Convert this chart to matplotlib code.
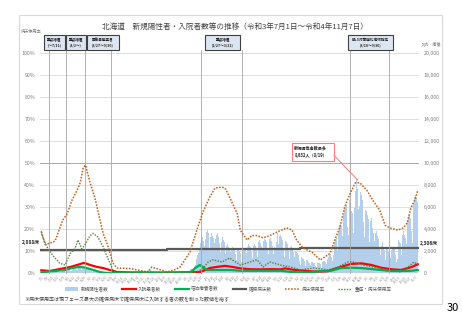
import pandas as pd
import matplotlib
matplotlib.use("Agg")
import matplotlib.pyplot as plt
from matplotlib.patches import Rectangle, Patch
from matplotlib.lines import Line2D

plt.rcParams['font.family'] = ['Noto Sans CJK JP', 'DejaVu Sans']

START = pd.Timestamp('2021-07-01')

# daily new positives, one list per month
cases_2107 = [40, 33, 30, 28, 13, 29, 35, 37, 31, 27, 24, 18, 40, 45, 51, 60, 55, 48, 30, 58,
              77, 70, 81, 66, 57, 118, 130, 145, 171, 176, 150]
cases_2108 = [125, 110, 183, 220, 241, 255, 248, 210, 180, 195, 300, 336, 364, 355, 321, 245,
              318, 399, 413, 425, 430, 345, 290, 410, 486, 569, 531, 470, 370, 268, 392]
cases_2109 = [333, 298, 270, 215, 165, 99, 180, 170, 145, 132, 112, 84, 50, 98, 85, 72, 60, 48,
              40, 28, 20, 38, 34, 30, 25, 22, 12, 20, 24, 19]
cases_2110 = [18, 14, 10, 7, 12, 15, 11, 12, 9, 6, 4, 10, 8, 13, 9, 7, 5, 3, 8, 10, 6, 9, 7, 2,
              3, 5, 8, 4, 6, 7, 3]
cases_2111 = [2, 5, 3, 4, 8, 6, 3, 4, 10, 9, 7, 12, 11, 6, 4, 13, 15, 9, 7, 10, 5, 8, 6, 11, 9,
              8, 5, 4, 3, 7]
cases_2112 = [6, 4, 5, 3, 2, 4, 6, 8, 5, 3, 7, 4, 2, 5, 6, 4, 3, 5, 4, 3, 6, 8, 10, 12, 9, 7,
              11, 15, 19, 14, 20]
cases_2201 = [17, 19, 22, 35, 55, 60, 79, 112, 127, 95, 119, 206, 328, 383, 394, 397, 380, 642,
              749, 998, 1240, 1600, 1800, 1500, 2200, 2700, 3000, 3300, 3400, 2900, 2500]
cases_2202 = [3100, 3400, 3700, 3900, 3600, 3000, 2200, 3300, 3600, 3800, 3400, 3200, 2700, 2000,
              3100, 3500, 3600, 3300, 3100, 2700, 1900, 2800, 3200, 3300, 3000, 2800, 2400, 1700]
cases_2203 = [2500, 2600, 2500, 2400, 2200, 1900, 1300, 2200, 2400, 2300, 2200, 2000, 1700, 1200,
              2100, 2300, 2200, 2000, 1800, 1500, 1000, 1500, 2300, 2400, 2200, 2100, 1800, 1300,
              2400, 2600, 2500]
cases_2204 = [2400, 2300, 1900, 1400, 2500, 2700, 2600, 2500, 2300, 1900, 1500, 2800, 3000, 2900,
              2700, 2500, 2100, 1600, 2900, 3100, 3000, 2800, 2600, 2200, 1700, 3100, 3300, 3200,
              2900, 2500]
cases_2205 = [2100, 1700, 2400, 2200, 1900, 2800, 3600, 2600, 2000, 3400, 3500, 3300, 3000, 2700,
              2200, 1500, 2900, 3000, 2800, 2600, 2300, 1900, 1300, 2400, 2500, 2300, 2100, 1900,
              1500, 1000, 2000]
cases_2206 = [1900, 1800, 1600, 1400, 1100, 750, 1500, 1500, 1400, 1300, 1100, 900, 600, 1200,
              1200, 1100, 1000, 900, 700, 500, 1000, 1000, 950, 900, 800, 650, 450, 950, 1000, 950]
cases_2207 = [900, 850, 700, 500, 1000, 1100, 1100, 1100, 1000, 850, 650, 1300, 1500, 1600, 1700,
              1700, 1500, 1100, 1600, 2400, 2800, 3100, 3200, 2900, 2100, 3800, 4400, 4600, 4500,
              4300, 3400]
cases_2208 = [2900, 5300, 5800, 6100, 6200, 5900, 4200, 3500, 6600, 7100, 6800, 5600, 5500, 4600,
              3600, 5900, 7500, 8200, 8632, 7600, 5800, 3800, 6100, 7400, 7100, 6600, 6100, 4600,
              3300, 5700, 6200]
cases_2209 = [5600, 5300, 4900, 4300, 2800, 4700, 5000, 4500, 4100, 3600, 2900, 2000, 3600, 3800,
              3400, 3100, 2700, 2200, 1600, 2500, 3000, 2800, 2300, 2100, 1700, 1200, 2200, 2400,
              2100, 1900]
cases_2210 = [1700, 1400, 900, 2100, 2400, 2300, 2200, 1900, 1600, 1000, 1300, 2900, 3000, 2800,
              2700, 2300, 1600, 3500, 3800, 3700, 3500, 3200, 2600, 1900, 4800, 5300, 5200, 5000,
              4700, 3800, 2700]
cases_2211 = [6300, 7800, 6900, 7100, 6800, 5900, 6500]

new_cases = (cases_2107 + cases_2108 + cases_2109 + cases_2110 + cases_2111 + cases_2112
             + cases_2201 + cases_2202 + cases_2203 + cases_2204 + cases_2205 + cases_2206
             + cases_2207 + cases_2208 + cases_2209 + cases_2210 + cases_2211)

# bed usage rate (%)
usage_dates = ['2021-07-01', '2021-07-06', '2021-07-12', '2021-07-19', '2021-07-29', '2021-08-04',
               '2021-08-10', '2021-08-17', '2021-08-21', '2021-08-25', '2021-08-28', '2021-09-03',
               '2021-09-09', '2021-09-12', '2021-09-16', '2021-09-20', '2021-09-25', '2021-09-29',
               '2021-10-03', '2021-10-08', '2021-10-25', '2021-11-07', '2021-11-17', '2021-11-23',
               '2021-12-04', '2021-12-13', '2021-12-23', '2021-12-30', '2022-01-12', '2022-01-21',
               '2022-01-29', '2022-02-07', '2022-02-14', '2022-02-23', '2022-02-27', '2022-03-05',
               '2022-03-15', '2022-03-19', '2022-03-28', '2022-04-03', '2022-04-10', '2022-04-18',
               '2022-04-27', '2022-05-06', '2022-05-19', '2022-05-26', '2022-06-01', '2022-06-09',
               '2022-06-21', '2022-07-02', '2022-07-08', '2022-07-15', '2022-07-21', '2022-07-28',
               '2022-08-03', '2022-08-10', '2022-08-17', '2022-08-23', '2022-09-01', '2022-09-09',
               '2022-09-18', '2022-09-25', '2022-10-01', '2022-10-12', '2022-10-19', '2022-10-24',
               '2022-10-29', '2022-11-04', '2022-11-07']
usage_rate = [18.6, 13, 13.5, 14.5, 24, 27, 33, 37.7, 41, 48, 49, 41, 34.5, 30, 24, 18, 13.6, 9,
              4.5, 2.3, 2, 1.2, 0.3, 2.7, 1.5, 0.5, 1.5, 2.7, 9.5, 19.5, 27.7, 34.5, 38.6, 39,
              38.6, 34.5, 27, 19.5, 15, 17, 17, 16, 17, 18.6, 20.5, 19.5, 15, 11.4, 9.5, 5.9, 7.3,
              9, 15, 21, 30, 36, 41, 41, 37.7, 33, 28.6, 21.8, 20.5, 19.5, 20.5, 22.7, 29.5, 34,
              37.5]

# severe bed usage rate (%)
severe_dates = ['2021-07-01', '2021-07-02', '2021-07-08', '2021-07-16', '2021-07-25', '2021-08-01',
                '2021-08-08', '2021-08-14', '2021-08-18', '2021-08-23', '2021-08-27', '2021-09-03',
                '2021-09-07', '2021-09-13', '2021-09-20', '2021-09-26', '2021-10-03', '2021-10-08',
                '2021-10-25', '2021-11-20', '2021-12-08', '2021-12-30', '2022-01-21', '2022-01-29',
                '2022-02-05', '2022-02-11', '2022-02-23', '2022-03-05', '2022-03-19', '2022-04-01',
                '2022-04-10', '2022-04-18', '2022-04-27', '2022-05-11', '2022-05-24', '2022-06-06',
                '2022-06-24', '2022-07-12', '2022-07-25', '2022-08-07', '2022-08-14', '2022-08-28',
                '2022-09-16', '2022-10-03', '2022-10-16', '2022-10-25', '2022-11-02', '2022-11-07']
severe_rate = [19, 17, 12, 8, 4.5, 3.6, 9, 11, 15, 11, 12.7, 17, 18, 16.4, 12, 6.8, 1.4, 0.5,
               0.3, 0.8, 0.2, 0, 0.5, 2, 5, 6, 5, 6.8, 3.6, 5, 6, 2.7, 5, 3.6, 2.7, 1.4, 2.3, 1.4,
               2.7, 5, 5, 3.6, 2.3, 1, 0.5, 2.7, 5, 3.6]

# hospitalized patients
hosp_dates = ['2021-07-01', '2021-07-12', '2021-07-25', '2021-08-08', '2021-08-17', '2021-08-25',
              '2021-08-28', '2021-09-03', '2021-09-12', '2021-09-20', '2021-09-29', '2021-10-08',
              '2021-10-25', '2021-11-28', '2022-01-12', '2022-01-25', '2022-02-01', '2022-02-07',
              '2022-02-16', '2022-02-27', '2022-03-09', '2022-03-19', '2022-04-02', '2022-04-15',
              '2022-04-28', '2022-05-11', '2022-05-17', '2022-05-24', '2022-06-06', '2022-06-20',
              '2022-07-03', '2022-07-12', '2022-07-16', '2022-07-29', '2022-08-11', '2022-08-25',
              '2022-09-07', '2022-09-20', '2022-10-03', '2022-10-16', '2022-10-29', '2022-11-07']
hospitalized = [250, 180, 360, 550, 730, 900, 880, 730, 550, 450, 270, 90, 50, 30, 70, 90, 270,
                450, 550, 650, 550, 420, 340, 330, 350, 330, 420, 330, 230, 150, 130, 160, 270,
                550, 820, 880, 730, 480, 340, 280, 520, 790]

# hotel care patients
hotel_dates = ['2021-07-01', '2021-07-19', '2021-08-01', '2021-08-10', '2021-08-20', '2021-08-27',
               '2021-09-03', '2021-09-16', '2021-09-22', '2021-09-29', '2021-11-28', '2022-01-12',
               '2022-01-19', '2022-01-25', '2022-01-29', '2022-02-03', '2022-02-11', '2022-03-07',
               '2022-03-20', '2022-04-15', '2022-05-11', '2022-05-24', '2022-06-06', '2022-06-20',
               '2022-07-03', '2022-07-16', '2022-07-29', '2022-08-11', '2022-08-25', '2022-09-07',
               '2022-09-20', '2022-10-03', '2022-10-16', '2022-10-29', '2022-11-07']
hotel_care = [60, 180, 270, 450, 550, 500, 360, 90, 20, 5, 5, 20, 450, 730, 550, 270, 270, 270,
              200, 200, 200, 100, 60, 60, 180, 200, 450, 480, 450, 360, 270, 180, 180, 200, 270]

# secured beds
bed_dates = ['2021-07-01', '2021-12-13', '2022-03-24', '2022-06-06', '2022-11-07']
beds = [2088, 2149, 2221, 2306, 2306]

# measures periods: (start, end, label)
measure_boxes = [
    ('2021-07-04', '2021-08-01', '重点措置\n(～7/11)'),
    ('2021-08-02', '2021-08-28', '重点措置\n(8/2～)'),
    ('2021-08-30', '2021-10-11', '緊急事態宣言\n(8/27～9/30)'),
    ('2022-02-01', '2022-03-19', '重点措置\n(1/27～3/21)'),
    ('2022-08-07', '2022-10-05', 'BA.5対策強化地域指定\n(8/10～9/30)'),
]
measure_lines = ['2021-07-11', '2021-08-02', '2021-08-27', '2021-09-30',
                 '2022-01-27', '2022-03-21', '2022-08-10', '2022-09-30']


def to_days(dates):
    return (pd.to_datetime(dates) - START).days


fig = plt.figure(figsize=(4.62, 3.2), dpi=100)
ax = fig.add_axes([40 / 462, 47 / 320, 379 / 462, 220 / 320])
ax2 = ax.twinx()
ax.set_zorder(ax2.get_zorder() + 1)
ax.patch.set_visible(False)

days = range(len(new_cases))
ax2.bar(days, new_cases, width=1.0, color='#b3cfec', linewidth=0, zorder=2)
ax2.plot(to_days(bed_dates), beds, drawstyle='steps-post', color='#595959', lw=1.6, zorder=4)
ax2.plot(to_days(hosp_dates), hospitalized, color='#ff0000', lw=1.6, zorder=5)
ax2.plot(to_days(hotel_dates), hotel_care, color='#00b050', lw=1.6, zorder=5)

ax.plot(to_days(usage_dates), usage_rate, color='#c55a11', lw=1.1, ls=(0, (1, 1)), zorder=6)
ax.plot(to_days(severe_dates), severe_rate, color='#548235', lw=1.0, ls=(0, (1, 1)), zorder=6)
ax.axhline(50, color='#f28c8c', lw=0.7, zorder=3)

# axes setup
ax.set_xlim(-1.8, 495.6)
ax.set_ylim(0, 100)
ax2.set_ylim(0, 20000)
ax.set_yticks(range(0, 101, 10))
ax.set_yticklabels([f'{v}%' for v in range(0, 101, 10)])
ax2.set_yticks(range(0, 20001, 2000))
ax2.set_yticklabels([f'{v:,}' for v in range(0, 20001, 2000)])
ax2.yaxis.grid(True, color='#d9d9d9', lw=0.6, zorder=0)
ax2.set_axisbelow(True)
for a in (ax, ax2):
    for s in a.spines.values():
        s.set_visible(False)
    a.tick_params(length=0, labelsize=3.8, labelcolor='#7f7f7f', pad=3.5)

tick_dates = pd.date_range(START, '2022-11-07', freq='7D')
ax.set_xticks((tick_dates - START).days)
ax.set_xticklabels([f'{d.month}/{d.day}' for d in tick_dates], rotation=45, ha='right',
                   rotation_mode='anchor', fontsize=2.4, color='#8c8c8c')
ax.tick_params(axis='x', pad=1.5)

# measure boxes and period lines
for d in to_days(measure_lines):
    ax.plot([d, d], [0, 101.4], color='#a6a6a6', lw=0.6, clip_on=False, zorder=3)
for start, end, label in measure_boxes:
    x0, x1 = to_days([start, end])
    ax.add_patch(Rectangle((x0, 101.4), x1 - x0, 6.8, facecolor='#dce6f2', edgecolor='#404040',
                           lw=0.8, clip_on=False, zorder=7))
    ax.text((x0 + x1) / 2, 104.8, label, ha='center', va='center', fontsize=2.6,
            fontweight='bold', color='#262626', linespacing=1.5, zorder=8)

# peak annotation
ax.add_patch(Rectangle((329, 50.9), 55, 8.2, facecolor='white', edgecolor='#ff7c80', lw=0.8,
                       zorder=7))
ax.text(332, 55, '新規陽性者数最多\n8,632人（8/19）', ha='left', va='center', fontsize=3.0,
        fontweight='bold', color='#262626', linespacing=1.6, zorder=8)
ax.plot([384, 415], [53.5, 42.3], color='#ff7c80', lw=0.7, zorder=7)

# bed count labels
ax2.text(-2, 2750, f'{beds[0]:,}床', ha='right', va='center', fontsize=3.5,
         fontweight='bold', color='#262626', clip_on=False)
ax2.text(497, 2650, f'{beds[-1]:,}床', ha='left', va='center', fontsize=3.5,
         fontweight='bold', color='#262626', clip_on=False)

# legend
handles = [Patch(facecolor='#b3cfec', edgecolor='none'),
           Line2D([], [], color='#ff0000', lw=1.6),
           Line2D([], [], color='#00b050', lw=1.6),
           Line2D([], [], color='#595959', lw=1.6),
           Line2D([], [], color='#c55a11', lw=1.1, ls=(0, (1, 1))),
           Line2D([], [], color='#548235', lw=1.0, ls=(0, (1, 1)))]
labels = ['新規陽性者数', '入院患者数', '宿泊療養者数', '確保病床数', '病床使用率', '重症・病床使用率']
leg = fig.legend(handles, labels, ncol=6, loc='center', bbox_to_anchor=(228 / 462, 31 / 320),
                 fontsize=3.3, frameon=False, handlelength=3.0, handletextpad=0.5,
                 columnspacing=3.0)
for t in leg.get_texts():
    t.set_color('#595959')

# texts around the chart
fig.text(235 / 462, 1 - 27 / 320, '北海道　新規陽性者・入院者数等の推移（令和3年7月1日～令和4年11月7日）',
         ha='center', va='center', fontsize=5.5, color='#404040')
fig.text(21 / 462, 1 - 32 / 320, '病床使用率', ha='left', va='center', fontsize=3.0, color='#7f7f7f')
fig.text(441 / 462, 1 - 44 / 320, '入院・療養', ha='right', va='center', fontsize=3.0,
         color='#7f7f7f')
fig.text(24 / 462, 1 - 299 / 320,
         '※病床使用率は現フェーズ最大の確保病床で確保病床に入院する者の数を割った数値を指す',
         ha='left', va='center', fontsize=3.6, color='#404040')
fig.text(459 / 462, 1 - 308 / 320, '30', ha='right', va='center', fontsize=8, color='black')
fig.add_artist(Rectangle((19 / 462, 16 / 320), 423 / 462, 289 / 320, transform=fig.transFigure,
                         fill=False, edgecolor='#d9d9d9', lw=0.8))

fig.savefig('out.png', dpi=100)
